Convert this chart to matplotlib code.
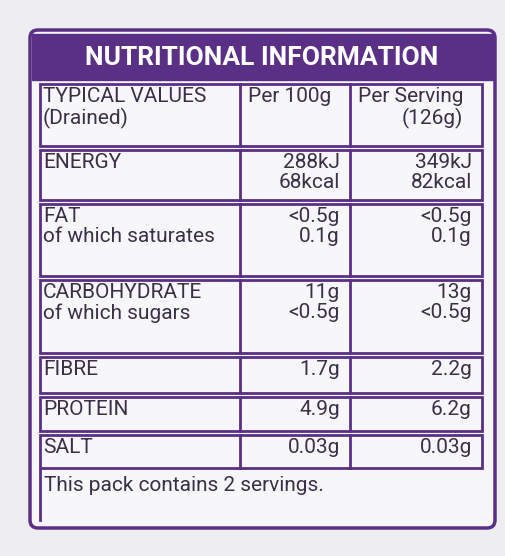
import matplotlib
matplotlib.use("Agg")
import matplotlib.pyplot as plt
from matplotlib.patches import Rectangle, FancyBboxPatch

plt.rcParams['font.family'] = ['Liberation Sans Narrow', 'Roboto', 'DejaVu Sans']

title = "NUTRITIONAL INFORMATION"
col_heads = ["TYPICAL VALUES\n(Drained)", "Per 100g", "Per Serving\n(126g)"]
nutrients = ["ENERGY", "FAT\nof which saturates", "CARBOHYDRATE\nof which sugars",
             "FIBRE", "PROTEIN", "SALT"]
per100 = ["288kJ\n68kcal", "<0.5g\n0.1g", "11g\n<0.5g", "1.7g", "4.9g", "0.03g"]
per_serving = ["349kJ\n82kcal", "<0.5g\n0.1g", "13g\n<0.5g", "2.2g", "6.2g", "0.03g"]
footer = "This pack contains 2 servings."

purple = "#5a2f86"
ink = "#3a3048"
fs = 15

fig = plt.figure(figsize=(5.06, 5.56), dpi=100)
fig.patch.set_facecolor("#eeedf2")
ax = fig.add_axes([0, 0, 1, 1])
ax.set_xlim(0, 506)
ax.set_ylim(556, 0)
ax.axis("off")

# outer frame and title band
ax.add_patch(FancyBboxPatch((30, 30), 465, 498, boxstyle="round,pad=0,rounding_size=8",
                            fc="#f7f6fa", ec=purple, lw=2.5))
ax.add_patch(Rectangle((32, 34), 461, 46, fc=purple, ec=purple))
ax.text(262, 58, title, color="white", fontsize=19, fontweight="bold",
        ha="center", va="center")

x_cols = [40, 240, 350, 482]
row_edges = [82, 148, 202, 278, 355, 395, 433, 470]
rows = [col_heads] + [[n, a, b] for n, a, b in zip(nutrients, per100, per_serving)]
for i, r in enumerate(rows):
    y0, y1 = row_edges[i], row_edges[i + 1]
    ax.add_patch(Rectangle((x_cols[0], y0 + 2), x_cols[-1] - x_cols[0], y1 - y0 - 4,
                           fc="none", ec=purple, lw=2))
    for j in (1, 2):
        ax.plot([x_cols[j], x_cols[j]], [y0 + 2, y1 - 2], color=purple, lw=2)
    ax.text(x_cols[0] + 3, y0 + 5, r[0], fontsize=fs, color=ink, va="top", ha="left",
            linespacing=1.1)
    for j in (1, 2):
        if i == 0:
            ax.text(x_cols[j] + 8, y0 + 5, r[j], fontsize=fs, color=ink, va="top",
                    ha="left", linespacing=1.1, multialignment="right")
        else:
            ax.text(x_cols[j + 1] - 10, y0 + 5, r[j], fontsize=fs, color=ink, va="top",
                    ha="right", linespacing=1.1, multialignment="right")

ax.plot([x_cols[0], x_cols[0]], [470, 520], color=purple, lw=2)
ax.text(x_cols[0] + 4, 476, footer, fontsize=fs, color=ink, va="top", ha="left")

fig.savefig("out.png", dpi=100, facecolor=fig.get_facecolor())
